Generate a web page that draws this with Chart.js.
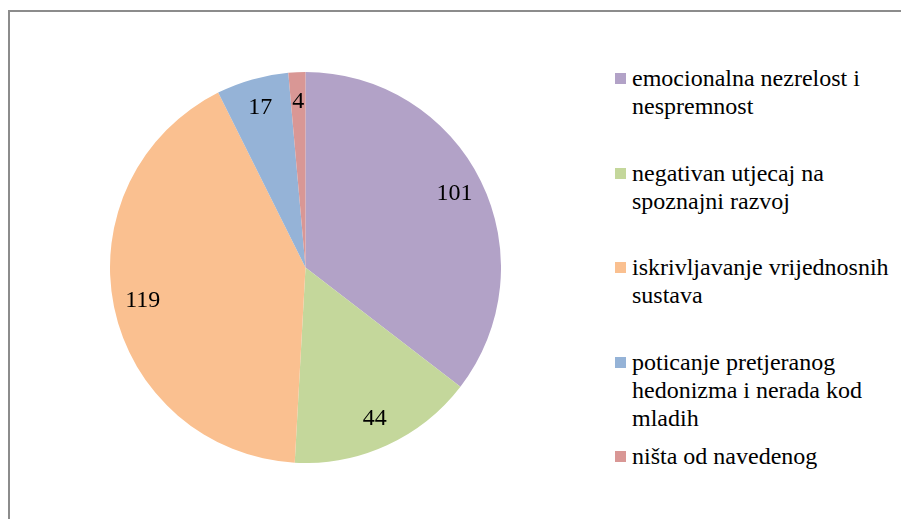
<!DOCTYPE html>
<html>
<head>
<meta charset="utf-8">
<script src="https://cdn.jsdelivr.net/npm/chart.js@4"></script>
<style>
  body { margin: 0; background: #fff; width: 901px; height: 519px; overflow: hidden; position: relative; }
  #frame { position: absolute; left: 8px; top: 10px; width: 1000px; height: 1000px; border: 2px solid #8c8c8c; }
  #pieBox { position: absolute; left: 110px; top: 72px; width: 391px; height: 391px; }
  #legend { position: absolute; left: 614px; top: 64px; width: 285px; font-family: "Liberation Serif", Tinos, "Times New Roman", Times, "DejaVu Serif", serif; font-size: 24px; line-height: 28px; color: #000; }
  .item { position: relative; height: 94.5px; padding-left: 18px; white-space: nowrap; }
  .box { position: absolute; left: 1px; top: 9px; width: 11px; height: 11px; }
</style>
</head>
<body>
<div id="frame"></div>
<div id="pieBox"><canvas id="pie"></canvas></div>
<div id="legend"></div>
<script>
const kategorije = [
  ["emocionalna nezrelost i", "nespremnost"],
  ["negativan utjecaj na", "spoznajni razvoj"],
  ["iskrivljavanje vrijednosnih", "sustava"],
  ["poticanje pretjeranog", "hedonizma i nerada kod", "mladih"],
  ["ništa od navedenog"]
];
const vrijednosti = [101, 44, 119, 17, 4];
const boje = ["#B2A2C7", "#C4D79B", "#FAC090", "#95B3D7", "#D99795"];

const FONT = "'Liberation Serif', Tinos, 'Times New Roman', Times, 'DejaVu Serif', serif";

// brojevi unutar isjecaka
const oznake = {
  id: "oznake",
  afterDatasetsDraw(chart) {
    const ctx = chart.ctx;
    const meta = chart.getDatasetMeta(0);
    ctx.save();
    ctx.font = "24px " + FONT;
    ctx.fillStyle = "#000";
    ctx.textAlign = "center";
    ctx.textBaseline = "middle";
    meta.data.forEach((arc, i) => {
      const p = arc.getProps(["x", "y", "startAngle", "endAngle", "outerRadius"], true);
      const mid = (p.startAngle + p.endAngle) / 2;
      const r = p.outerRadius * 0.85;
      ctx.fillText(String(vrijednosti[i]), p.x + Math.cos(mid) * r, p.y + Math.sin(mid) * r);
    });
    ctx.restore();
  }
};

new Chart(document.getElementById("pie"), {
  type: "pie",
  data: {
    labels: kategorije,
    datasets: [{
      data: vrijednosti,
      backgroundColor: boje,
      borderWidth: 0
    }]
  },
  options: {
    responsive: true,
    maintainAspectRatio: false,
    animation: false,
    layout: { padding: 0 },
    plugins: {
      legend: { display: false },
      tooltip: { enabled: false }
    }
  },
  plugins: [oznake]
});

const legenda = document.getElementById("legend");
kategorije.forEach((linije, i) => {
  legenda.innerHTML += `
    <div class="item">
      <span class="box" style="background:${boje[i]}"></span>
      ${linije.join("<br>")}
    </div>`;
});
</script>
</body>
</html>
